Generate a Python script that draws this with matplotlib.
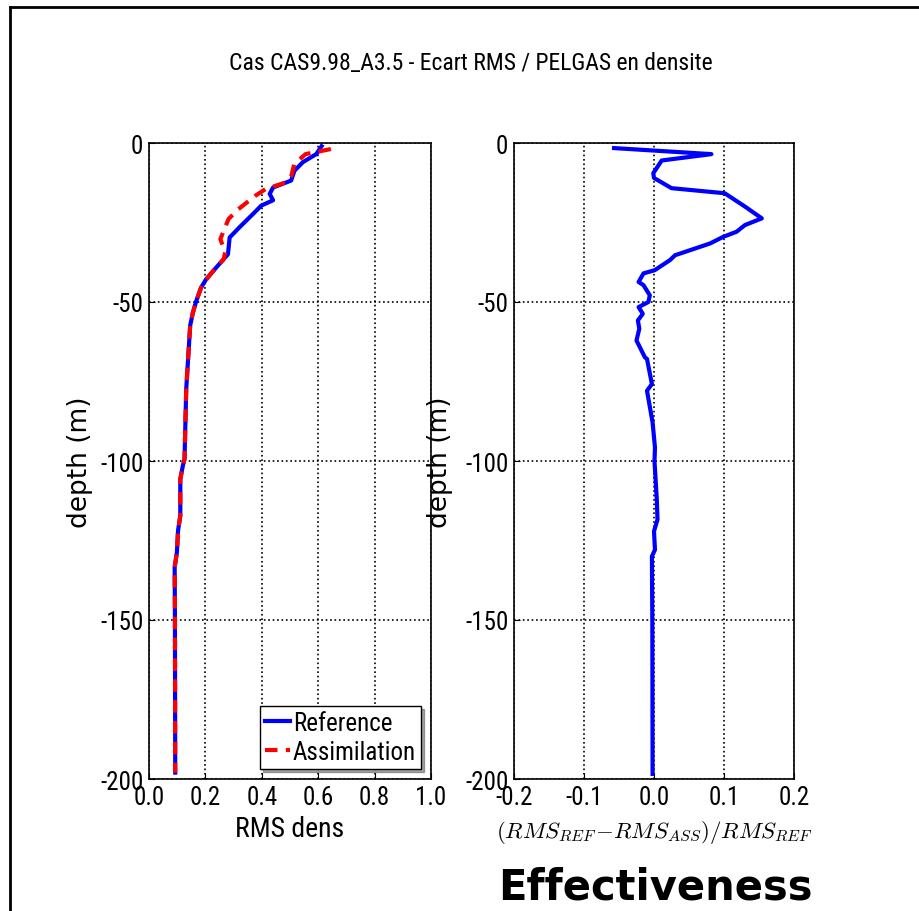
"""
Profils RMS en densite : reference vs assimilation (PELGAS)
"""

import matplotlib
matplotlib.use("Agg")
import matplotlib.pyplot as plt
from matplotlib.lines import Line2D

plt.rcParams["font.family"] = ["Roboto Condensed", "Roboto", "DejaVu Sans"]
plt.rcParams["mathtext.fontset"] = "cm"
plt.rcParams["axes.unicode_minus"] = False

# RMS densite - experience de reference
ref_depth = [-1, -3.5, -6, -8.7, -11.8, -12.4, -14, -16, -18, -19.7, -22.3, -26.5,
             -29.7, -35, -38.6, -42.8, -45.4, -49.6, -53.2, -57.4, -77.4, -99.4,
             -101.5, -105.7, -117.2, -121.9, -128.7, -133.4, -149.7, -198]
ref_rms = [0.612, 0.593, 0.546, 0.516, 0.504, 0.487, 0.44, 0.428, 0.44, 0.398,
           0.369, 0.321, 0.286, 0.28, 0.244, 0.203, 0.185, 0.168, 0.156, 0.146,
           0.132, 0.126, 0.12, 0.111, 0.111, 0.103, 0.099, 0.091, 0.092, 0.093]

# RMS densite - experience avec assimilation
ass_depth = [-1.9, -3.5, -6.6, -10.3, -12.4, -14.5, -16.6, -20.8, -23.9, -30.2,
             -34.4, -36.5, -40.7, -43, -45.4, -49.6, -53.2, -57.4, -77.4, -99.4,
             -101.5, -105.7, -117.2, -121.9, -128.7, -133.4, -149.7, -198]
ass_rms = [0.645, 0.555, 0.515, 0.505, 0.485, 0.413, 0.377, 0.317, 0.282, 0.253,
           0.27, 0.265, 0.223, 0.203, 0.185, 0.168, 0.156, 0.146, 0.132, 0.126,
           0.12, 0.111, 0.111, 0.103, 0.099, 0.091, 0.092, 0.093]

# (RMS_REF - RMS_ASS) / RMS_REF
eff_depth = [-1.6, -3.5, -5.5, -9.5, -11, -14.2, -15.8, -20, -23.7, -25.8, -27.9,
             -29.5, -31.6, -35.3, -36.8, -40, -41, -43.7, -44.7, -47.9, -50,
             -51.6, -53.7, -55.8, -58.4, -62.1, -67.4, -67.9, -75.8, -77.9, -87.9,
             -95.8, -100, -112.1, -118.4, -122.1, -127.9, -130, -150, -198.4]
eff_val = [-0.057, 0.082, 0.011, -0.001, 0.0, 0.025, 0.101, 0.130, 0.154, 0.130,
           0.118, 0.099, 0.080, 0.030, 0.023, 0.001, -0.015, -0.022, -0.015,
           -0.006, -0.008, -0.022, -0.016, -0.023, -0.021, -0.025, -0.013, -0.010,
           -0.003, -0.010, -0.002, 0.0014, 0.0007, 0.004, 0.005, 0.0, 0.0014,
           -0.003, -0.0024, -0.002]

fig = plt.figure(figsize=(9.19, 9.12), dpi=100)

# cadre autour de la figure
fig.add_artist(Line2D([10 / 919, 10 / 919], [-0.01, 1 - 8 / 912], transform=fig.transFigure,
                      color="black", linewidth=2))
fig.add_artist(Line2D([10 / 919, 1.01], [1 - 8 / 912, 1 - 8 / 912], transform=fig.transFigure,
                      color="black", linewidth=2))

ax1 = fig.add_axes([149 / 919, 132 / 912, 282 / 919, 636 / 912])
ax2 = fig.add_axes([514 / 919, 132 / 912, 280 / 919, 636 / 912])

fig.text(0.5125, 1 - 63 / 912, "Cas CAS9.98_A3.5 - Ecart RMS / PELGAS en densite",
         ha="center", va="center", fontsize=17)

# Panneau gauche : RMS
ax1.plot(ref_rms, ref_depth, color="blue", linewidth=3, label="Reference")
ax1.plot(ass_rms, ass_depth, color="red", linewidth=3, linestyle="--", dashes=(3, 2),
         label="Assimilation")
ax1.set_xlim(0, 1.0)
ax1.set_ylim(-200, 0)
ax1.set_xticks([0, 0.2, 0.4, 0.6, 0.8, 1.0])
ax1.set_xlabel("RMS dens", fontsize=20)
ax1.xaxis.set_label_coords(0.5, -0.057)
ax1.legend(loc="lower right", fontsize=18, handlelength=1.0, handletextpad=0.1,
           borderpad=0.2, labelspacing=0.2, fancybox=False, shadow=True,
           framealpha=1, edgecolor="black", borderaxespad=0.4)

# Panneau droit : efficacite
ax2.plot(eff_val, eff_depth, color="blue", linewidth=3)
ax2.set_xlim(-0.2, 0.2)
ax2.set_ylim(-200, 0)
ax2.set_xticks([-0.2, -0.1, 0.0, 0.1, 0.2])
ax2.set_xlabel(r"$(RMS_{REF}\!-\!RMS_{ASS})/RMS_{REF}$", fontsize=16.5)
ax2.xaxis.set_label_coords(0.5, -0.062)

for ax, lx in ((ax1, -0.199), (ax2, -0.218)):
    ax.set_yticks([0, -50, -100, -150, -200])
    ax.set_ylabel("depth (m)", fontsize=19, family=["DejaVu Sans"])
    ax.yaxis.set_label_coords(lx, 0.5)
    ax.grid(True, color="black", linestyle=":", linewidth=1.2)
    ax.tick_params(direction="in", labelsize=18, length=4, pad=4)
    for s in ax.spines.values():
        s.set_linewidth(1.2)

fig.text(655 / 919, 12 / 912, "Effectiveness", ha="center", va="baseline",
         fontsize=30, fontweight="bold", family=["DejaVu Sans"])

fig.savefig("out.png", dpi=100)
